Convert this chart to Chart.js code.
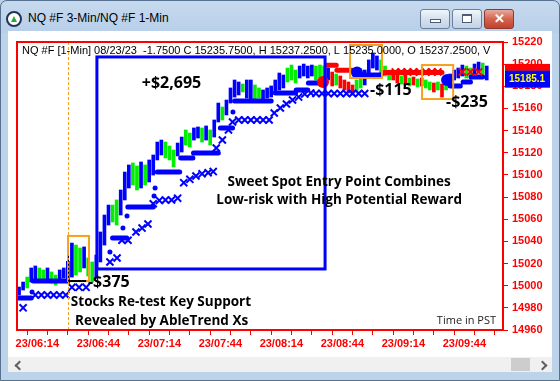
<!DOCTYPE html>
<html>
<head>
<meta charset="utf-8">
<script src="https://cdn.jsdelivr.net/npm/chart.js@4.4.0/dist/chart.umd.min.js"></script>
<style>
body { margin:0; width:560px; height:381px; overflow:hidden; background:#b9d1ea; font-family:"Liberation Sans", Arial, sans-serif; }
#frame { position:absolute; left:0; top:0; width:558px; height:379px; border:1px solid #56708f; border-radius:7px 7px 0 0;
  background:linear-gradient(#c6d9ee, #b8cfe9 32px, #bcd3ea 33px); }
#icon { position:absolute; left:6px; top:11px; width:12px; height:12px; border-radius:50%; background:#fff; border:2px solid #1f3554; }
#icon:after { content:""; position:absolute; left:3px; top:3px; border-left:3px solid transparent; border-right:3px solid transparent; border-bottom:6px solid #2ea83a; }
#title { position:absolute; left:28px; top:11px; font-size:12px; color:#000; }
.btn { position:absolute; top:9px; width:28px; height:18px; border:1px solid #6d7f98; border-radius:3px;
  background:linear-gradient(#f2f6fb, #d5e1ee 50%, #c3d3e6); }
#bmin { left:420px; } #bmax { left:452px; }
#bclose { left:484px; width:28px; background:linear-gradient(#e9a99c, #d3644f 50%, #c2412e); border-color:#8c3a2e; }
#bmin:after { content:""; position:absolute; left:9px; top:9px; width:9px; height:2px; background:#fff; border:1px solid #4b5d75; }
#bmax:after { content:""; position:absolute; left:9px; top:4px; width:8px; height:6px; border:1px solid #4b5d75; border-top-width:2px; background:#fff; }
#bclose span { position:absolute; left:0; top:0; width:28px; line-height:18px; text-align:center; color:#fff; font-weight:bold; font-size:13px; }
#client { position:absolute; left:8px; top:31px; width:544px; height:341px; background:#fff; }
#scroll { position:absolute; left:8px; top:357px; width:544px; height:15px; background:#f0f0f0; }
#thumb { position:absolute; left:503px; top:1px; width:19px; height:13px; background:#cdcdcd; }
.chev { position:absolute; top:5px; width:5px; height:5px; border-left:2px solid #606060; border-bottom:2px solid #606060; }
#cl { left:8px; transform:rotate(45deg); } #cr { left:531px; transform:rotate(-135deg); }
#c { position:absolute; left:8px; top:31px; }
</style>
</head>
<body>
<div id="frame"></div>
<div id="icon"></div>
<div id="title">NQ #F 3-Min/NQ #F 1-Min</div>
<div class="btn" id="bmin"></div>
<div class="btn" id="bmax"></div>
<div class="btn" id="bclose"><span>✕</span></div>
<div id="client"></div>
<div id="scroll"><div id="thumb"></div><div class="chev" id="cl"></div><div class="chev" id="cr"></div></div>
<canvas id="c" width="544" height="326"></canvas>
<script>
// minutes after midnight; first bar 06:05, one bar every 2 minutes
const firstBar = 365;
const barStep = 2;
const highs = [14998.8, 15003.3, 15007.8, 15016.0, 15017.8, 15016.0, 15014.2, 15016.0, 15012.4, 15009.6,
  15014.2, 15016.0, 15022.0, 15038.5, 15036.7, 15034.0, 15035.0, 15025.0, 15021.4, 15027.7,
  15048.5, 15063.8, 15072.8, 15072.8, 15077.4, 15086.4, 15102.6, 15109.0, 15110.8, 15108.1,
  15111.7, 15109.0, 15113.5, 15118.0, 15129.7, 15131.5, 15129.7, 15126.1, 15122.5, 15128.8,
  15134.2, 15140.6, 15137.8, 15142.4, 15143.3, 15142.4, 15144.2, 15140.6, 15149.6, 15164.9,
  15161.3, 15167.6, 15178.5, 15185.7, 15183.9, 15182.1, 15185.7, 15185.7, 15181.2, 15178.5,
  15176.7, 15178.5, 15180.3, 15185.7, 15192.0, 15190.2, 15196.5, 15199.2, 15194.7, 15198.3,
  15200.1, 15198.3, 15199.2, 15198.3, 15199.2, 15198.3, 15196.5, 15192.9, 15191.1, 15189.3,
  15185.7, 15183.9, 15181.2, 15185.7, 15189.3, 15194.7, 15203.8, 15210.1, 15207.4, 15203.8,
  15198.3, 15194.7, 15192.9, 15191.1, 15189.3, 15190.2, 15187.5, 15188.4, 15186.6, 15187.5,
  15185.7, 15183.9, 15183.0, 15183.9, 15182.1, 15185.7, 15191.1, 15194.7, 15196.5, 15199.2,
  15198.3, 15196.5, 15200.1, 15201.9, 15201.0, 15198.3];
const lows = [14991.6, 14996.1, 14997.9, 15003.3, 15005.1, 15005.1, 15003.3, 15005.1, 15002.4, 15000.6,
  15004.2, 15006.9, 15005.0, 15007.8, 15009.6, 15012.4, 15016.0, 15008.7, 15003.3, 15006.9,
  15021.4, 15036.7, 15054.8, 15057.5, 15054.8, 15063.8, 15077.4, 15088.2, 15090.9, 15086.4,
  15088.2, 15090.9, 15093.6, 15099.9, 15113.5, 15118.0, 15115.3, 15113.5, 15107.2, 15117.1,
  15120.7, 15127.0, 15125.2, 15131.5, 15133.3, 15129.7, 15131.5, 15127.0, 15134.2, 15147.8,
  15149.6, 15154.1, 15164.9, 15170.3, 15172.2, 15174.9, 15169.4, 15167.6, 15167.6, 15169.4,
  15167.6, 15169.4, 15170.3, 15174.9, 15176.7, 15178.5, 15183.9, 15185.7, 15183.0, 15187.5,
  15189.3, 15187.5, 15189.3, 15185.7, 15187.5, 15185.7, 15185.7, 15180.3, 15181.2, 15178.5,
  15176.7, 15174.0, 15172.2, 15174.9, 15178.5, 15181.2, 15190.2, 15196.5, 15194.7, 15192.0,
  15189.3, 15185.7, 15185.7, 15183.0, 15182.1, 15181.2, 15180.3, 15181.2, 15179.4, 15180.3,
  15178.5, 15176.7, 15174.9, 15176.7, 15170.3, 15176.7, 15182.1, 15185.7, 15187.5, 15189.3,
  15187.5, 15188.4, 15191.1, 15192.9, 15190.2, 15185.7];
// b = up (blue), g = pullback (green), r = down trend (red)
const barKinds = ['b','b','g','b','b','g','g','b','g','g', 'b','b','b','b','g','g','b','g','g','b',
  'b','b','b','g','g','b','b','b','g','g', 'b','g','b','b','b','b','g','g','g','b',
  'b','g','g','b','b','g','b','g','b','b', 'g','b','b','b','b','g','b','b','g','g',
  'b','b','b','b','b','b','g','g','g','b', 'b','b','b','g','g','g','b','r','g','r',
  'r','r','r','g','g','b','b','b','b','g', 'g','g','r','r','g','r','g','r','g','r',
  'g','g','r','g','r','g','b','b','b','b', 'g','g','b','b','g','b'];

// trailing stop segments: [from minute, to minute, price]
const blueStops = [[364, 371, 14989], [372, 389, 15004.2], [411, 418, 15043], [418.5, 431, 15071],
  [433, 444, 15102.6], [444.5, 450.5, 15115.3], [450.8, 463, 15119.8], [464, 470, 15142.4],
  [471, 489, 15166.7], [491, 501, 15174], [501.3, 507, 15176.7], [507.3, 513, 15183],
  [533, 543, 15190.2], [577, 582, 15180.3], [583.4, 587, 15183.9], [587.3, 593, 15188.4]];
const redStops = [[516.5, 521, 15199], [521.3, 529, 15194.5], [544, 573, 15192.5]];
const stopDots = [[371.4, 14994.3], [409.7, 15030.4], [416.1, 15052.1], [418.1, 15063], [431.4, 15081], [431.9, 15088.2], [470.2, 15156.8]];
const blueXs = [[367, 14980], [373, 14991.6], [376, 14991.6], [379, 14991.6], [382, 14991.6], [385, 14991.6], [388, 14991.6],
  [391, 14998.5], [394.5, 14998.5], [398, 14998.5],
  [409.7, 15021.4], [413.2, 15025], [415.6, 15041], [418.6, 15041], [422.5, 15048.5], [425.5, 15052], [428.4, 15055.7],
  [431, 15074], [434, 15077], [437, 15077.4], [440, 15077.4], [443, 15079],
  [446, 15093], [449, 15096], [452, 15099], [455, 15101], [458, 15102], [460.5, 15103],
  [462, 15124.3], [465, 15131.5], [468, 15140.6], [470, 15147.8],
  [473, 15149.6], [476, 15149.6], [479, 15149.6], [482, 15149.6], [485, 15149.6], [488, 15149.6],
  [490.5, 15155.9], [493.5, 15160.4], [496.5, 15164], [499.5, 15167.6], [502.5, 15170.3], [505.5, 15173], [508.5, 15174],
  [511, 15173.5], [514, 15173.5], [517, 15173.5], [520, 15173.5], [523, 15173.5], [526, 15173.5], [529, 15173.5], [532, 15173.5], [535, 15173.5]];
const redXs = [[550, 15193], [553, 15193], [556, 15193], [559, 15193], [562, 15193], [565, 15193], [568, 15193], [571, 15193],
  [583, 15193], [587, 15193], [591, 15193]];
const trendRedDots = [[514.5, 15183.9]];
const trendBlueDots = [[531.2, 15192.5], [575.5, 15185.7]];

const lastPrice = 15185.1;
const redLevel = 15197.5;
const headerText = 'NQ #F [1-Min] 08/23/23  -1.7500 C 15235.7500, H 15237.2500, L 15235.0000, O 15237.2500, V';

// annotation boxes in minutes / price
const boxes = [[403.3, 515.5, 15206.5, 15015.1, '#0000ff', 3],
  [389.1, 399.4, 15044.9, 15004.2, '#f6a11c', 2],
  [527.8, 543.5, 15217.3, 15187.5, '#f6a11c', 2],
  [563.2, 578.5, 15199.2, 15168.5, '#f6a11c', 2]];
const entryMinute = 389.1;
const notes = [['+$2,695', 440, 15182.7, 'center', 16],
  ['-$375', 398.9, 15003.3, 'left', 16],
  ['-$115', 537.6, 15176, 'left', 16],
  ['-$235', 575, 15165.2, 'left', 16],
  ['Sweet Spot Entry Point Combines', 522.4, 15093.6, 'center', 13.5],
  ['Low-risk with High Potential Reward', 522.4, 15077.4, 'center', 13.5],
  ['Stocks Re-test Key Support', 434.8, 14985.3, 'center', 13.5],
  ['Revealed by AbleTrend Xs', 435.1, 14968.1, 'center', 13.5]];

const kindColor = { b: '#0000ff', g: '#00ee00', r: '#ff0000' };
const bars = highs.map((h, i) => ({ x: firstBar + i * barStep, y: [lows[i], h] }));
function segs(list) {
  const out = [];
  list.forEach(s => { out.push({x: s[0], y: s[2]}, {x: s[1], y: s[2]}, {x: s[1], y: null}); });
  return out;
}
const pts = list => list.map(p => ({x: p[0], y: p[1]}));
const pad = n => (n < 10 ? '0' : '') + n;

const annotate = {
  id: 'annotate',
  afterDatasetsDraw(chart) {
    const {ctx, chartArea: a, scales: {x, y}} = chart;
    ctx.save();
    ctx.beginPath(); ctx.rect(a.left, a.top, a.right - a.left, a.bottom - a.top); ctx.clip();
    // entry line
    const ex = Math.round(x.getPixelForValue(entryMinute)) + 0.5;
    ctx.strokeStyle = '#f6a11c'; ctx.lineWidth = 1; ctx.setLineDash([3, 2]);
    ctx.beginPath(); ctx.moveTo(ex, a.top); ctx.lineTo(ex, a.bottom); ctx.stroke();
    ctx.setLineDash([]);
    boxes.forEach(b => {
      ctx.strokeStyle = b[4]; ctx.lineWidth = b[5];
      const x0 = x.getPixelForValue(b[0]), x1 = x.getPixelForValue(b[1]);
      const y0 = y.getPixelForValue(b[2]), y1 = y.getPixelForValue(b[3]);
      ctx.strokeRect(x0, y0, x1 - x0, y1 - y0);
    });
    // stop distance marker
    ctx.strokeStyle = '#000'; ctx.lineWidth = 2;
    ctx.beginPath(); ctx.moveTo(ex, y.getPixelForValue(15004.2));
    ctx.lineTo(x.getPixelForValue(398), y.getPixelForValue(15004.2)); ctx.stroke();
    ctx.lineWidth = 1; ctx.setLineDash([2, 2]);
    ctx.beginPath(); ctx.moveTo(ex, y.getPixelForValue(15027)); ctx.lineTo(ex, y.getPixelForValue(15004.2)); ctx.stroke();
    ctx.setLineDash([]);
    ctx.fillStyle = '#000'; ctx.textBaseline = 'middle';
    notes.forEach(n => {
      ctx.font = 'bold ' + n[4] + 'px "Open Sans"';
      ctx.textAlign = n[3];
      ctx.fillText(n[0], x.getPixelForValue(n[1]), y.getPixelForValue(n[2]));
    });
    ctx.font = '11px "Liberation Sans"'; ctx.textAlign = 'left';
    ctx.fillText(headerText, a.left + 5, a.top + 9);
    ctx.font = '11px "Open Sans"'; ctx.textAlign = 'right'; ctx.fillStyle = '#222';
    ctx.fillText('Time in PST', a.right - 7, a.bottom - 9);
    ctx.restore();
    ctx.strokeStyle = '#ff0000'; ctx.lineWidth = 2;
    ctx.strokeRect(a.left, a.top, a.right - a.left, a.bottom - a.top);
  },
  afterDraw(chart) {
    const {ctx, chartArea: a, scales: {y}} = chart;
    const ry = y.getPixelForValue(redLevel);
    ctx.fillStyle = '#ff0000';
    ctx.fillRect(a.right + 2, ry - 3, 45, 7);
    const ly = y.getPixelForValue(lastPrice) - 2;
    ctx.fillStyle = '#0000ff';
    ctx.fillRect(a.right + 2, ly - 8, 45, 17);
    ctx.fillStyle = '#ffff00'; ctx.font = 'bold 10px "Liberation Sans"';
    ctx.textAlign = 'left'; ctx.textBaseline = 'middle';
    ctx.fillText(lastPrice.toFixed(1), a.right + 6, ly + 1);
  }
};

const axisFont = { family: 'Liberation Sans', size: 11, weight: 'bold' };
new Chart(document.getElementById('c'), {
  type: 'bar',
  data: {
    datasets: [
      { type: 'scatter', data: pts(trendRedDots), backgroundColor: '#ff0000', borderWidth: 0, pointRadius: 6, order: 0 },
      { type: 'scatter', data: pts(trendBlueDots), backgroundColor: '#0000ff', borderWidth: 0, pointRadius: 6, order: 0 },
      { type: 'scatter', data: pts(blueXs), pointStyle: 'crossRot', pointRadius: 5, borderColor: '#0000ff', borderWidth: 2, order: 2 },
      { type: 'scatter', data: pts(redXs), pointStyle: 'crossRot', pointRadius: 5, borderColor: '#ff0000', borderWidth: 2, order: 2 },
      { type: 'scatter', data: pts(stopDots), backgroundColor: '#0000ff', borderWidth: 0, pointRadius: 2.5, order: 3 },
      { type: 'line', data: segs(blueStops), borderColor: '#0000ff', borderWidth: 5, borderCapStyle: 'round', pointRadius: 0, spanGaps: false, order: 3 },
      { type: 'line', data: segs(redStops), borderColor: '#ff0000', borderWidth: 5, borderCapStyle: 'round', pointRadius: 0, spanGaps: false, order: 3 },
      { type: 'bar', data: bars, backgroundColor: barKinds.map(k => kindColor[k]), barThickness: 3, grouped: false, order: 4 }
    ]
  },
  options: {
    responsive: false,
    animation: false,
    devicePixelRatio: 1,
    events: [],
    layout: { padding: { left: 9, top: 11, right: 0, bottom: 0 } },
    plugins: { legend: { display: false }, tooltip: { enabled: false } },
    scales: {
      x: {
        type: 'linear', min: 364, max: 603, offset: false,
        afterFit(s) { s.height = 27; },
        afterBuildTicks(s) {
          const t = [];
          for (let v = 364; v <= 603; v += 10) t.push({ value: v });
          s.ticks = t;
        },
        ticks: { autoSkip: false, maxRotation: 0, color: '#ff0000', font: axisFont, padding: 2,
          callback: v => ((v - 374) % 30 === 0 ? '23/' + pad(Math.floor(v / 60)) + ':' + pad(v % 60) : '') },
        grid: { drawOnChartArea: false, color: '#ff0000', tickLength: 5 },
        border: { display: false }
      },
      y: {
        position: 'right', min: 14960, max: 15220,
        afterFit(s) { s.width = 49; },
        ticks: { stepSize: 20, color: '#ff0000', font: axisFont, padding: 4, callback: v => String(v) },
        grid: { drawOnChartArea: false, color: '#ff0000', tickLength: 5 },
        border: { display: false }
      }
    }
  },
  plugins: [annotate]
});
</script>
</body>
</html>
